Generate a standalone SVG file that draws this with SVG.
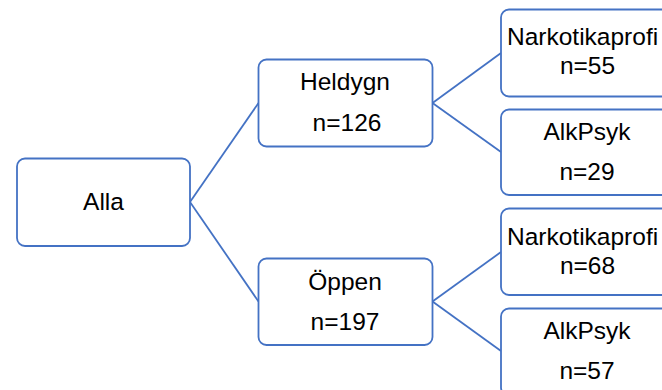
<svg xmlns="http://www.w3.org/2000/svg" width="662" height="390" viewBox="0 0 662 390">
<style>
.box{fill:#ffffff;stroke:#4472C4;stroke-width:1.8}
.edge{fill:none;stroke:#4472C4;stroke-width:1.8}
text{font-family:"Liberation Sans",Arial,sans-serif;font-size:24.5px;fill:#000000;text-anchor:middle}
text.left{text-anchor:start}
</style>
<rect width="662" height="390" fill="#ffffff"/>
<g id="connectors">
<line class="edge" x1="190" y1="202" x2="258.5" y2="103"/>
<line class="edge" x1="190" y1="202" x2="258.5" y2="301.5"/>
<line class="edge" x1="432.5" y1="103" x2="501" y2="53"/>
<line class="edge" x1="432.5" y1="103" x2="501" y2="152"/>
<line class="edge" x1="432.5" y1="301.5" x2="501" y2="252"/>
<line class="edge" x1="432.5" y1="301.5" x2="501" y2="351"/>
</g>
<g id="alla">
<rect class="box" x="17" y="158.5" width="173" height="87.5" rx="8"/>
<text x="103.5" y="210">Alla</text>
</g>
<g id="heldygn">
<rect class="box" x="258.5" y="59.5" width="174" height="87" rx="8"/>
<text x="345" y="90">Heldygn</text>
<text x="347" y="130.5">n=126</text>
</g>
<g id="oppen">
<rect class="box" x="258.5" y="258.5" width="174" height="86.5" rx="8"/>
<text x="345" y="290">Öppen</text>
<text x="345" y="329.5">n=197</text>
</g>
<g id="heldygn-narkotika">
<rect class="box" x="501" y="9.5" width="174" height="87" rx="8"/>
<text class="left" x="507" y="44.5">Narkotikaprofi</text>
<text x="587.5" y="74">n=55</text>
</g>
<g id="heldygn-alkpsyk">
<rect class="box" x="501" y="109.5" width="174" height="85.5" rx="8"/>
<text x="587" y="140">AlkPsyk</text>
<text x="587" y="180">n=29</text>
</g>
<g id="oppen-narkotika">
<rect class="box" x="501" y="208.5" width="174" height="86.5" rx="8"/>
<text class="left" x="507" y="244.5">Narkotikaprofi</text>
<text x="587.5" y="273.5">n=68</text>
</g>
<g id="oppen-alkpsyk">
<rect class="box" x="501" y="308.5" width="174" height="87" rx="8"/>
<text x="587" y="338.5">AlkPsyk</text>
<text x="587" y="378.5">n=57</text>
</g>
</svg>
